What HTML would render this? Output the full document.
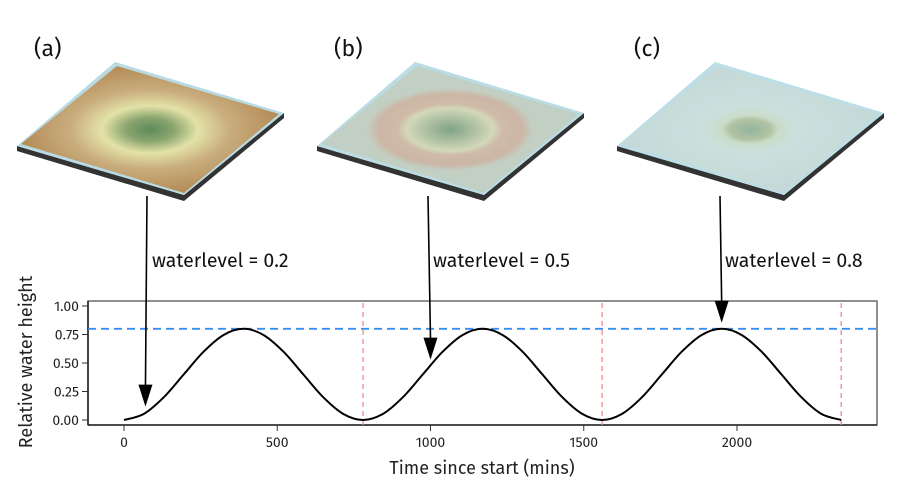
<!DOCTYPE html>
<html><head><meta charset="utf-8"><style>
body{margin:0;background:#fff;}
svg{display:block;font-family:"Fira Sans","Liberation Sans",sans-serif;}
</style></head><body>
<svg id="fig" width="902" height="501" viewBox="0 0 902 501">
<defs>
<radialGradient id="ga" cx="0.5" cy="0.5" r="0.62">
<stop offset="0" stop-color="#5f8a5a"/><stop offset="0.15" stop-color="#8aa56e"/><stop offset="0.3" stop-color="#e3e2a8"/><stop offset="0.5" stop-color="#c9ad7e"/><stop offset="0.8" stop-color="#b58d58"/><stop offset="1" stop-color="#b58d58"/>
</radialGradient>
<radialGradient id="gb" cx="0.5" cy="0.5" r="0.62">
<stop offset="0" stop-color="#6a8d66"/><stop offset="0.15" stop-color="#a9b48a"/><stop offset="0.27" stop-color="#d9d5a8"/><stop offset="0.33" stop-color="#d4ad92"/><stop offset="0.45" stop-color="#d0a88e"/><stop offset="0.52" stop-color="#c4c9b6"/><stop offset="1" stop-color="#c0c8b8"/>
</radialGradient>
<radialGradient id="gc" cx="0.5" cy="0.5" r="0.62">
<stop offset="0" stop-color="#6e8f60"/><stop offset="0.13" stop-color="#a8aa68"/><stop offset="0.18" stop-color="#d3d8ae"/><stop offset="0.3" stop-color="#d5dfd3"/><stop offset="1" stop-color="#c4cdc2"/>
</radialGradient>
</defs>
<g id="tiles"></g>
<g id="chart"></g>
</svg>
<script>
// ---- chart data ----
const times = [0,65,130,195,260,325,390,455,520,585,650,715,780,845,910,975,1040,1105,1170,1235,1300,1365,1430,1495,1560,1625,1690,1755,1820,1885,1950,2015,2080,2145,2210,2275,2340];
const heights = [0,0.054,0.2,0.4,0.6,0.746,0.8,0.746,0.6,0.4,0.2,0.054,0,0.054,0.2,0.4,0.6,0.746,0.8,0.746,0.6,0.4,0.2,0.054,0,0.054,0.2,0.4,0.6,0.746,0.8,0.746,0.6,0.4,0.2,0.054,0];
const xTicks = [0,500,1000,1500,2000];
const yTicks = [0,0.25,0.5,0.75,1.0];
const yTickLabels = ["0.00","0.25","0.50","0.75","1.00"];
const cycleEnds = [780,1560,2340];
const threshold = 0.8;
const panelLabels = ["(a)","(b)","(c)"];
const waterLevels = [0.2,0.5,0.8];
const panelTimes = [70,1000,1950];

const NS="http://www.w3.org/2000/svg";
const X0=88,X1=877,Y0=301,Y1=425;
const xs=t=>124+t*0.30650;
const ys=v=>420-v*114;
function mk(tag,attrs,parent){const e=document.createElementNS(NS,tag);for(const k in attrs)e.setAttribute(k,attrs[k]);parent.appendChild(e);return e;}
const ch=document.getElementById('chart');
const tl=document.getElementById('tiles');

// tiles
const gids=['ga','gb','gc'];
const waterOp=[0,0.25,0.45];
for(let i=0;i<3;i++){
  const dx=i*300;
  const g=mk('g',{transform:`translate(${dx},0)`},tl);
  
  
  const T=[115,62],R=[284,113],B=[184,195],L=[17,146];
  const side=mk('polygon',{points:`${L[0]},${L[1]} ${B[0]},${B[1]} ${R[0]},${R[1]} ${R[0]},${R[1]+5} ${B[0]},${B[1]+6} ${L[0]},${L[1]+5}`,fill:'#333'},g);
  
  
  const pts=`${T[0]},${T[1]} ${R[0]},${R[1]} ${B[0]},${B[1]} ${L[0]},${L[1]}`;
  mk('polygon',{points:pts,fill:'#b8dbe3'},g);
  const surf=mk('polygon',{points:`${T[0]+2},${T[1]+4} ${R[0]-5},${R[1]+1} ${B[0]},${B[1]-2} ${L[0]+4},${L[1]-2}`,fill:`url(#${gids[i]})`},g);
  
  
  if(waterOp[i]>0){
    const wt=mk('polygon',{points:pts,fill:'#bfe2ec','fill-opacity':waterOp[i]},g);
    
    
  }
  const lab=mk('text',{x:34,y:56,'font-size':23,fill:'#111'},g);
  lab.textContent=panelLabels[i];
  
  
}

// box
const box=mk('rect',{x:X0,y:Y0,width:X1-X0,height:Y1-Y0,fill:'none',stroke:'#555','stroke-width':1.3},ch);


mk('line',{x1:X0,y1:Y0,x2:X0,y2:Y1,stroke:'#222','stroke-width':1.6},ch);
mk('line',{x1:X0,y1:Y1,x2:X1,y2:Y1,stroke:'#222','stroke-width':1.6},ch);

xTicks.forEach(t=>{
  mk('line',{x1:xs(t),y1:Y1,x2:xs(t),y2:Y1+6,stroke:'#333'},ch);
  const e=mk('text',{x:xs(t),y:447,'font-size':14,'text-anchor':'middle',fill:'#222'},ch);
  e.textContent=t;
  
  
});
yTicks.forEach((v,i)=>{
  mk('line',{x1:X0-6,y1:ys(v),x2:X0,y2:ys(v),stroke:'#333'},ch);
  const e=mk('text',{x:X0-9,y:ys(v)+5,'font-size':14,'text-anchor':'end',fill:'#222'},ch);
  e.textContent=yTickLabels[i];
  
  
});
const xt=mk('text',{x:482,y:474,'font-size':18,'text-anchor':'middle',fill:'#222'},ch);
xt.textContent='Time since start (mins)';


const yt=mk('text',{x:0,y:0,'font-size':18,'text-anchor':'middle',fill:'#222',transform:'translate(32,362) rotate(-90)'},ch);
yt.textContent='Relative water height';



cycleEnds.forEach(t=>{
  const l=mk('line',{x1:xs(t),y1:Y0+2,x2:xs(t),y2:Y1,stroke:'#f58a8a','stroke-width':1.3,'stroke-dasharray':'5,4'},ch);
  
  
});
const th=mk('line',{x1:X0,y1:ys(threshold),x2:X1,y2:ys(threshold),stroke:'#3a8ef0','stroke-width':1.8,'stroke-dasharray':'8,5'},ch);



// curve (catmull-rom)
const P=times.map((t,i)=>[xs(t),ys(heights[i])]);
let d=`M${P[0][0]},${P[0][1]}`;
for(let i=0;i<P.length-1;i++){
  const p0=P[Math.max(0,i-1)],p1=P[i],p2=P[i+1],p3=P[Math.min(P.length-1,i+2)];
  d+=` C${p1[0]+(p2[0]-p0[0])/6},${p1[1]+(p2[1]-p0[1])/6} ${p2[0]-(p3[0]-p1[0])/6},${p2[1]-(p3[1]-p1[1])/6} ${p2[0]},${p2[1]}`;
}
const cv=mk('path',{d:d,fill:'none',stroke:'#000','stroke-width':2},ch);



// arrows
const startX=[147,428,720];
waterLevels.forEach((w,i)=>{
  const t=panelTimes[i];
  let v=0;for(let k=0;k<times.length-1;k++){if(t>=times[k]&&t<=times[k+1]){const f=(t-times[k])/(times[k+1]-times[k]);v=heights[k]+f*(heights[k+1]-heights[k]);}}
  const ex=xs(t), ey=ys(v)-6;
  const g=mk('g',{},ch);
  
  
  mk('line',{x1:startX[i],y1:196,x2:ex,y2:ey-20,stroke:'#000','stroke-width':1.6},g);
  mk('polygon',{points:`${ex-7},${ey-22} ${ex+7},${ey-22} ${ex},${ey}`,fill:'#000'},g);
  const tx=mk('text',{x:startX[i]+5,y:267,'font-size':19.5,fill:'#111'},ch);
  tx.textContent='waterlevel = '+w;
  
  
});
</script>
</body></html>
